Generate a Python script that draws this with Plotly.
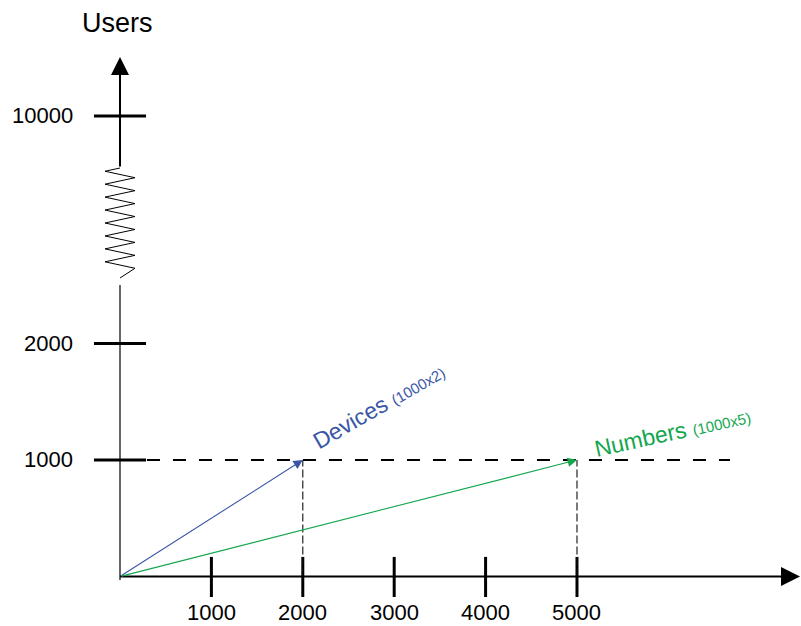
import plotly.graph_objects as go

# ---------------- data ----------------
x_tick_values = [1000, 2000, 3000, 4000, 5000]
x_tick_labels = ["1000", "2000", "3000", "4000", "5000"]
y_tick_values = [1000, 2000, 10000]
y_tick_labels = ["1000", "2000", "10000"]
y_axis_title = "Users"

series_names = ["Devices", "Numbers"]
series_notes = ["(1000x2)", "(1000x5)"]
series_x = [2000, 5000]
series_y = [1000, 1000]
series_colors = ["#3a56a6", "#14a64f"]

# ---------------- layout constants ----------------
W, H = 801, 626
X_MIN, X_MAX = -1313, 7451
Y_MIN, Y_MAX = -425, 4948
BREAK_LOW = 2000          # last value drawn on the linear part
BREAK_K = 0.2441          # compression of values above the break
FONT = "Liberation Sans, Arial, sans-serif"


def yd(v):
    """broken y-axis mapping"""
    return v if v <= BREAK_LOW else BREAK_LOW + (v - BREAK_LOW) * BREAK_K


ZIG_TOP, ZIG_BOT = 3506, 2562
THIN_TOP = 2502
Y_TIP = 4459
X_TIP = 7440
ZIG_AMP = 164

fig = go.Figure()

# zig-zag axis break (decoration)
n_peaks = 16
zz_x, zz_y = [0], [ZIG_TOP]
step = (ZIG_TOP - ZIG_BOT) / (n_peaks + 1)
for i in range(n_peaks):
    zz_x.append(-ZIG_AMP if i % 2 == 0 else ZIG_AMP)
    zz_y.append(ZIG_TOP - step * (i + 0.5))
zz_x.append(0)
zz_y.append(ZIG_BOT)
fig.add_trace(go.Scatter(x=zz_x, y=zz_y, mode="lines",
                         line=dict(color="black", width=1),
                         hoverinfo="skip", showlegend=False))

shapes = []
annotations = []

# lower thin y-axis line
shapes.append(dict(type="line", xref="x", yref="y", x0=0, x1=0, y0=-30, y1=THIN_TOP,
                   line=dict(color="black", width=1.2)))

# y ticks and labels
for v, t in zip(y_tick_values, y_tick_labels):
    shapes.append(dict(type="line", xref="x", yref="y", x0=-285, x1=285, y0=yd(v), y1=yd(v),
                       line=dict(color="black", width=3)))
    annotations.append(dict(x=-492, y=yd(v), xref="x", yref="y", text=t, showarrow=False,
                            xanchor="right", yanchor="middle",
                            font=dict(family=FONT, size=22, color="black")))

# x ticks and labels
for v, t in zip(x_tick_values, x_tick_labels):
    shapes.append(dict(type="line", xref="x", yref="y", x0=v, x1=v, y0=-176, y1=168,
                       line=dict(color="black", width=3)))
    annotations.append(dict(x=v, y=-305, xref="x", yref="y", text=t, showarrow=False,
                            xanchor="center", yanchor="middle",
                            font=dict(family=FONT, size=22, color="black")))

# dashed reference line at the series' y level
shapes.append(dict(type="line", xref="x", yref="y", x0=295, x1=6674,
                   y0=yd(series_y[0]), y1=yd(series_y[0]),
                   line=dict(color="black", width=1.8, dash="13px,13px")))
# vertical drop lines
for sx, sy in zip(series_x, series_y):
    shapes.append(dict(type="line", xref="x", yref="y", x0=sx, x1=sx, y0=0, y1=yd(sy),
                       line=dict(color="#111111", width=1.1, dash="8px,3px")))

# axes arrows
annotations.append(dict(x=0, y=Y_TIP, ax=0, ay=ZIG_TOP, xref="x", yref="y", axref="x", ayref="y",
                        text="", showarrow=True, arrowhead=2, arrowsize=1.8, arrowwidth=2,
                        arrowcolor="black"))
annotations.append(dict(x=X_TIP, y=0, ax=-15, ay=0, xref="x", yref="y", axref="x", ayref="y",
                        text="", showarrow=True, arrowhead=2, arrowsize=1.9, arrowwidth=2,
                        arrowcolor="black"))

# axis title
annotations.append(dict(x=-22, y=4751, xref="x", yref="y", text=y_axis_title, showarrow=False,
                        xanchor="center", yanchor="middle",
                        font=dict(family=FONT, size=27, color="black")))

# series arrows and labels
label_shift = [(76, 54, -30), (96, 28, -12.5)]
for name, note, sx, sy, col, (dx, dy, ang) in zip(series_names, series_notes, series_x,
                                                  series_y, series_colors, label_shift):
    annotations.append(dict(x=sx, y=yd(sy), ax=0, ay=0, xref="x", yref="y", axref="x", ayref="y",
                            text="", showarrow=True, arrowhead=2, arrowsize=1.7, arrowwidth=1.1,
                            arrowcolor=col))
    annotations.append(dict(x=sx, y=yd(sy), xref="x", yref="y", xshift=dx, yshift=dy,
                            text=f"{name} <span style='font-size:15px'>{note}</span>",
                            showarrow=False, textangle=ang, xanchor="center", yanchor="middle",
                            font=dict(family=FONT, size=23, color=col)))

fig.update_layout(
    width=W, height=H,
    margin=dict(l=0, r=0, t=0, b=0),
    paper_bgcolor="white", plot_bgcolor="white",
    xaxis=dict(range=[X_MIN, X_MAX], visible=False, fixedrange=True),
    yaxis=dict(range=[Y_MIN, Y_MAX], visible=False, fixedrange=True),
    shapes=shapes, annotations=annotations, showlegend=False,
)

fig.write_html("out.html", config={"displayModeBar": False},
               post_script="document.body.style.margin='0';document.body.style.overflow='hidden';")
